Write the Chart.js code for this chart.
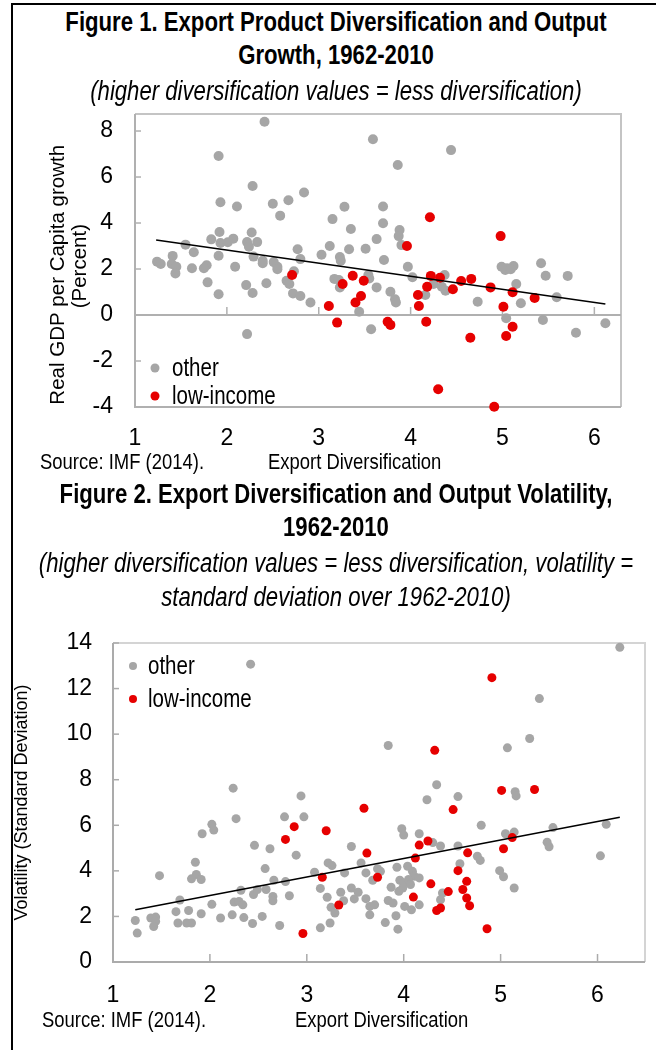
<!DOCTYPE html>
<html>
<head>
<meta charset="utf-8">
<script src="https://cdn.jsdelivr.net/npm/chart.js@4.4.1/dist/chart.umd.min.js"></script>
<style>
body{margin:0;background:#fff;width:656px;height:1050px;overflow:hidden;position:relative;
  font-family:'Liberation Sans',Arial,sans-serif;color:#000}
.frame{position:absolute;left:11px;top:3px;width:700px;height:1100px;border-left:2px solid #000;border-top:2px solid #000}
.txt{position:absolute;left:-200px;width:1072px;text-align:center;white-space:nowrap;transform:scaleX(0.82);transform-origin:50% 0}
.ttl{font-weight:bold;font-size:27px;line-height:33px}
.sub{font-style:italic;font-size:27px;line-height:34px}
.note{position:absolute;font-size:22.5px;line-height:24px;white-space:nowrap;transform:scaleX(0.82);transform-origin:0 0}
canvas{position:absolute;left:0}
</style>
</head>
<body>
<div class="frame"></div>
<canvas id="fig1" width="656" height="350" style="top:100px"></canvas>
<canvas id="fig2" width="656" height="420" style="top:620px"></canvas>

<div class="txt ttl" style="top:6px">Figure 1. Export Product Diversification and Output<br>Growth, 1962-2010</div>
<div class="txt sub" style="top:74px">(higher diversification values = less diversification)</div>
<div class="note" style="left:40px;top:450px">Source: IMF (2014).</div>
<div class="note" style="left:268px;top:450px">Export Diversification</div>

<div class="txt ttl" style="top:478px">Figure 2. Export Diversification and Output Volatility,<br>1962-2010</div>
<div class="txt sub" style="top:546px">(higher diversification values = less diversification, volatility =<br>standard deviation over 1962-2010)</div>
<div class="note" style="left:42px;top:1008px">Source: IMF (2014).</div>
<div class="note" style="left:295px;top:1008px">Export Diversification</div>

<script>
const seriesNames = ['other', 'low-income'];
const xTicks = [1, 2, 3, 4, 5, 6];

// Figure 1: growth vs diversification
const g1OtherX = [2.41,3.59,1.91,2.28,2.84,1.93,2.11,2.50,2.67,2.58,3.28,3.70,3.15,3.70,3.35,1.92,2.27,1.83,2.07,1.93,
  2.01,1.55,2.22,2.24,2.33,1.64,1.91,1.41,2.29,2.39,2.39,2.51,2.77,2.80,3.03,3.12,3.23,3.24,3.33,3.51,
  3.63,3.71,1.24,1.28,1.40,1.45,1.62,1.78,1.75,2.09,2.55,1.44,1.79,1.91,2.21,2.28,2.43,2.55,2.65,2.68,
  2.73,2.72,2.80,2.91,2.22,3.17,3.22,3.23,3.54,3.55,3.63,3.44,3.57,3.78,4.44,3.86,3.88,3.87,3.90,3.97,
  4.99,5.05,5.12,5.42,4.02,3.83,3.84,4.16,4.25,4.34,4.37,4.38,4.73,5.03,5.09,5.15,5.20,5.04,5.47,5.44,
  5.59,5.71,5.80,6.12];
const g1OtherY = [8.40,7.64,6.91,5.61,5.33,4.90,4.72,4.84,4.99,4.32,4.71,4.72,4.17,3.99,3.74,3.61,3.59,3.29,3.32,3.13,
  3.16,3.06,3.17,2.97,3.17,2.73,2.58,2.57,2.54,2.36,2.25,2.30,2.86,2.43,2.62,3.00,2.52,2.36,2.86,2.88,
  3.30,2.39,2.32,2.22,2.22,2.10,2.03,2.16,2.03,2.10,2.10,1.81,1.42,0.90,1.30,0.96,1.38,1.99,1.49,1.35,
  1.90,0.94,0.83,0.54,-0.83,1.57,1.52,1.20,1.74,1.59,1.20,0.14,-0.62,1.01,7.17,6.52,3.70,3.43,3.04,2.10,
  2.10,2.03,2.13,2.25,1.64,0.68,0.54,0.87,1.35,1.23,1.74,1.06,0.58,1.96,1.99,1.35,0.51,-0.14,1.71,-0.22,
  0.77,1.70,-0.77,-0.36];
const g1LowX = [2.71,3.11,3.20,3.26,3.37,3.49,3.46,3.40,3.75,3.78,3.96,4.21,4.98,4.08,4.09,4.17,4.18,4.22,4.32,4.46,
  4.55,4.66,4.65,4.30,4.87,4.91,5.01,5.11,5.11,5.04,5.35];
const g1LowY = [1.74,0.39,-0.33,1.35,1.71,1.49,0.83,0.54,-0.29,-0.43,3.00,4.25,3.43,0.87,0.39,-0.29,1.23,1.70,1.62,1.12,
  1.48,1.57,-0.99,-3.23,1.20,-3.99,0.36,0.99,-0.51,-0.91,0.74];
const g1TrendX = [1.23, 6.12];
const g1TrendY = [3.26, 0.48];
const g1YTicks = [-4, -2, 0, 2, 4, 6, 8];

// Figure 2: volatility vs diversification
const g2OtherX = [2.42,2.24,2.94,6.23,5.40,3.84,5.07,5.30,4.34,4.56,5.15,5.16,4.24,
  2.77,2.97,2.27,2.02,2.04,1.92,2.46,2.62,2.89,3.46,1.85,1.86,1.81,1.91,1.48,2.57,2.66,2.78,3.08,3.22,3.26,
  3.39,3.56,3.61,3.68,3.73,3.14,3.21,3.25,3.29,3.35,3.38,3.46,3.53,3.49,3.61,3.65,3.70,3.65,3.24,3.14,2.72,
  2.32,2.45,2.49,2.58,2.65,2.65,2.82,1.69,2.02,2.25,2.30,2.34,1.65,1.78,1.91,2.23,2.11,2.35,2.54,2.44,
  1.67,1.76,1.81,1.23,1.25,1.39,1.44,1.44,1.42,
  3.98,4.00,4.16,4.30,4.38,4.56,4.80,5.05,5.14,5.54,5.48,5.50,6.09,6.03,3.76,3.93,4.04,4.09,4.11,4.16,
  3.96,4.00,3.99,3.95,4.05,4.07,3.87,3.84,3.89,4.01,4.08,4.16,3.92,3.81,3.94,4.40,4.38,4.58,4.76,4.79,
  4.99,5.03,5.14];
const g2OtherY = [13.07,7.63,7.29,13.81,11.56,9.50,9.40,9.81,7.78,7.26,7.47,7.29,7.12,
  6.37,6.37,6.29,6.04,5.79,5.63,5.12,4.97,4.69,5.07,4.38,3.84,3.65,3.62,3.79,4.10,3.59,3.53,3.94,4.35,4.23,
  3.91,4.35,3.91,3.59,4.09,3.23,2.84,2.40,2.15,3.06,2.69,3.25,3.06,2.77,2.78,2.44,2.51,2.07,1.71,1.50,1.60,
  3.15,2.96,3.18,3.18,2.88,2.69,2.91,2.72,2.53,2.63,2.66,2.51,2.21,2.26,2.12,2.07,1.93,1.95,2.00,1.69,
  1.71,1.71,1.71,1.82,1.27,1.93,1.97,1.78,1.56,
  5.85,5.57,5.63,5.24,5.09,5.09,6.00,5.63,5.70,5.90,5.26,5.06,6.04,4.66,3.98,4.16,4.20,3.98,3.76,3.69,
  3.59,3.47,3.25,3.10,3.62,3.40,3.28,2.70,2.59,2.44,2.29,2.51,2.03,1.73,1.44,3.03,2.73,4.31,4.64,4.46,
  4.01,3.74,3.25];
const g2LowX = [4.91,4.32,5.01,5.35,3.59,2.87,2.78,3.20,3.62,3.16,3.33,2.96,3.73,4.51,4.16,4.25,4.12,4.66,5.03,5.12,
  4.56,4.28,4.65,4.61,4.46,4.10,4.65,4.68,4.34,4.38,4.86];
const g2LowY = [12.48,9.29,7.53,7.57,6.75,5.94,5.38,5.76,4.78,3.72,2.50,1.25,3.72,6.69,5.13,5.31,4.56,4.79,4.97,5.46,
  4.01,3.43,3.54,3.18,3.09,2.85,2.81,2.47,2.26,2.37,1.46];
const g2TrendX = [1.23, 6.23];
const g2TrendY = [2.29, 6.35];
const g2YTicks = [0, 2, 4, 6, 8, 10, 12, 14];

const fontFamily = "'Liberation Sans',Arial,sans-serif";
Chart.defaults.font.family = fontFamily;
Chart.defaults.color = '#000';

const toPoints = (xs, ys) => xs.map((x, i) => ({x: x, y: ys[i]}));

// plot frame, zero line and inside tick marks
const framePlugin = {
  id: 'framePlugin',
  beforeDatasetsDraw(chart, args, o) {
    const {ctx, chartArea: a} = chart;
    const xs = chart.scales.x, ys = chart.scales.y;
    ctx.save();
    ctx.lineWidth = 2;
    ctx.strokeStyle = o.light;
    ctx.beginPath();
    ctx.moveTo(a.left, a.top); ctx.lineTo(a.right, a.top); ctx.lineTo(a.right, a.bottom);
    ctx.stroke();
    ctx.strokeStyle = o.dark;
    ctx.beginPath();
    ctx.moveTo(a.left, a.top); ctx.lineTo(a.left, a.bottom); ctx.lineTo(a.right, a.bottom);
    const base = ys.getPixelForValue(o.axisAt);
    ctx.moveTo(a.left, base); ctx.lineTo(a.right, base);
    ctx.stroke();
    ctx.lineWidth = 1.5;
    ys.ticks.forEach(t => {
      const py = ys.getPixelForValue(t.value);
      ctx.beginPath(); ctx.moveTo(a.left, py); ctx.lineTo(a.left + 6, py); ctx.stroke();
    });
    xs.ticks.forEach(t => {
      const px = xs.getPixelForValue(t.value);
      ctx.beginPath(); ctx.moveTo(px, base); ctx.lineTo(px, base - 8); ctx.stroke();
    });
    ctx.restore();
  }
};

// legend drawn inside the plot, narrow type like the original
const legendPlugin = {
  id: 'legendPlugin',
  afterDatasetsDraw(chart, args, o) {
    const ctx = chart.ctx;
    chart.data.datasets.filter(d => d.showKey).forEach((d, i) => {
      const y = o.y + i * o.gap;
      ctx.save();
      ctx.fillStyle = d.backgroundColor;
      ctx.beginPath(); ctx.arc(o.x, y, o.r, 0, Math.PI * 2); ctx.fill();
      ctx.translate(o.x + o.dx, y);
      ctx.scale(0.82, 1);
      ctx.font = o.size + 'px ' + fontFamily;
      ctx.textBaseline = 'middle';
      ctx.fillStyle = '#000';
      ctx.fillText(d.label, 0, 1);
      ctx.restore();
    });
  }
};

function makeChart(id, cfg) {
  return new Chart(document.getElementById(id), {
    type: 'scatter',
    data: {
      datasets: [
        {label: seriesNames[0], data: toPoints(cfg.otherX, cfg.otherY), backgroundColor: '#a6a6a6',
          pointRadius: cfg.r, borderWidth: 0, order: 2, clip: false, showKey: true},
        {label: seriesNames[1], data: toPoints(cfg.lowX, cfg.lowY), backgroundColor: '#e60000',
          pointRadius: cfg.r, borderWidth: 0, order: 1, clip: false, showKey: true},
        {type: 'line', label: 'trend', data: toPoints(cfg.trendX, cfg.trendY), borderColor: '#000',
          borderWidth: 1.5, pointRadius: 0, fill: false, order: 0}
      ]
    },
    options: {
      responsive: false,
      animation: false,
      devicePixelRatio: 1,
      layout: {padding: cfg.pad},
      plugins: {
        legend: {display: false},
        tooltip: {enabled: false},
        framePlugin: cfg.frame,
        legendPlugin: cfg.key
      },
      scales: {
        x: {
          type: 'linear', min: 1, max: cfg.xMax,
          grid: {display: false, drawTicks: true, tickLength: cfg.xGap},
          border: {display: false},
          ticks: {font: {size: 23}, padding: 0, maxRotation: 0, autoSkip: false},
          afterBuildTicks: s => { s.ticks = xTicks.map(v => ({value: v})); },
          afterFit: s => { s.height = cfg.xH; }
        },
        y: {
          min: cfg.yMin, max: cfg.yMax,
          grid: {display: false, drawTicks: true, tickLength: cfg.yGap},
          border: {display: false},
          ticks: {font: {size: 23}, padding: 0},
          afterBuildTicks: s => { s.ticks = cfg.yTicks.map(v => ({value: v})); },
          afterFit: s => { s.width = cfg.yW; },
          title: {display: true, text: cfg.yTitle, font: {size: cfg.yTitleSize, lineHeight: cfg.yTitleLh},
            padding: {top: cfg.yTitlePad, bottom: 0}}
        }
      }
    },
    plugins: [framePlugin, legendPlugin]
  });
}

makeChart('fig1', {
  otherX: g1OtherX, otherY: g1OtherY, lowX: g1LowX, lowY: g1LowY, trendX: g1TrendX, trendY: g1TrendY,
  r: 5, pad: {top: 14, right: 35, left: 0, bottom: 0},
  xMax: 6.29, yMin: -4, yMax: 8.74, yTicks: g1YTicks,
  xH: 43, xGap: 18, yW: 135, yGap: 22,
  // trailing spaces nudge the rotated lines down, as in the original
  yTitle: ['Real GDP per Capita growth     ', '(Percent)  '], yTitleSize: 20.5, yTitleLh: 1.07, yTitlePad: 47,
  frame: {light: '#c4c4c4', dark: '#b0b0b0', axisAt: 0},
  key: {x: 155, y: 268, gap: 28, r: 4.5, dx: 17, size: 25}
});

makeChart('fig2', {
  otherX: g2OtherX, otherY: g2OtherY, lowX: g2LowX, lowY: g2LowY, trendX: g2TrendX, trendY: g2TrendY,
  r: 4.5, pad: {top: 23, right: 11, left: 0, bottom: 0},
  xMax: 6.49, yMin: 0, yMax: 14, yTicks: g2YTicks,
  xH: 78, xGap: 20, yW: 113, yGap: 21,
  yTitle: ['Volatility (Standard Deviation)'], yTitleSize: 18, yTitleLh: 1.2, yTitlePad: 11,
  frame: {light: '#d4d4d4', dark: '#ababab', axisAt: 0},
  key: {x: 133, y: 46, gap: 33, r: 4, dx: 15, size: 25}
});
</script>
</body>
</html>
